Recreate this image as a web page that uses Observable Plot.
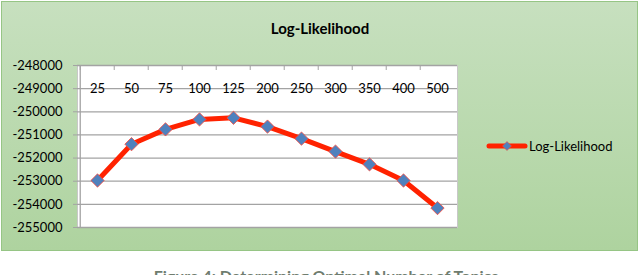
<!DOCTYPE html>
<html>
<head>
<meta charset="utf-8">
<script src="https://cdn.jsdelivr.net/npm/d3@7"></script>
<script src="https://cdn.jsdelivr.net/npm/@observablehq/plot@0.6"></script>
<style>
  html, body { margin: 0; padding: 0; background: #fff; overflow: hidden; }
  #wrap { position: relative; width: 640px; height: 275px; overflow: hidden; font-family: Lato, "Open Sans", sans-serif; }
  #panel { position: absolute; left: 1px; top: 1px; width: 635px; height: 248px;
           border: 1px solid #96c585; background: linear-gradient(#c7e0bf, #aed39f); }
  #chart { position: absolute; left: 0; top: 0; }
  #title { position: absolute; left: 0; width: 640px; top: 19px; text-align: center; font-weight: bold; font-size: 15px; color: #000; }
  #legend { position: absolute; left: 486px; top: 137px; display: flex; align-items: center; font-size: 13px; color: #000; }
  #caption { position: absolute; left: 0; width: 652px; top: 268px; line-height: 16px; text-align: center; font-weight: bold; font-size: 16px; color: #6f7d6f; white-space: nowrap; }
</style>
</head>
<body>
<div id="wrap">
  <div id="panel"></div>
  <div id="chart"></div>
  <div id="title"></div>
  <div id="legend"></div>
  <div id="caption"></div>
</div>
<script>
const titleText = "Log-Likelihood";
const seriesName = "Log-Likelihood";
const captionText = "Figure 4: Determining Optimal Number of Topics";
const topics = ["25", "50", "75", "100", "125", "200", "250", "300", "350", "400", "500"];
const logLikelihood = [-252970, -251400, -250760, -250330, -250260, -250640, -251160, -251720, -252270, -252970, -254160];
const yTicks = [-248000, -249000, -250000, -251000, -252000, -253000, -254000, -255000];

const data = topics.map((t, i) => ({topic: t, value: logLikelihood[i]}));

const W = 640, H = 250, mL = 77, mR = 183, mT = 65, mB = 23;
const step = (W - mL - mR) / topics.length;
const red = "#ff2200", blue = "#4f81bd", grid = "#a3a3a3";

const chart = Plot.plot({
  width: W, height: H,
  marginLeft: mL, marginRight: mR, marginTop: mT, marginBottom: mB,
  style: {background: "transparent", fontFamily: "Lato, 'Open Sans', sans-serif", fontSize: "13px", color: "#000"},
  x: {type: "point", domain: topics, padding: 0.5, axis: null, label: null},
  y: {domain: [-255000, -248000], axis: null, label: null},
  marks: [
    Plot.frame({fill: "white", stroke: "#c8c8c8"}),
    Plot.ruleY(yTicks, {stroke: grid, strokeWidth: 1.3}),
    Plot.axisY({ticks: yTicks, tickFormat: d => String(d), tickSize: 4, tickPadding: 11, stroke: grid, fontSize: 13, fill: "#000", label: null}),
    Plot.axisX({anchor: "top", tickSize: -4, tickFormat: () => "", dx: -step / 2, stroke: grid, label: null}),
    Plot.axisX({anchor: "top", tickSize: 0, tickPadding: 0, dy: 27, fontSize: 13, fill: "#000", label: null}),
    Plot.ruleX([topics[0]], {stroke: grid, dx: -step / 2, strokeWidth: 1.3}),
    Plot.line(data, {x: "topic", y: "value", stroke: red, strokeWidth: 5, strokeLinejoin: "round", strokeLinecap: "round"}),
    Plot.dot(data, {x: "topic", y: "value", symbol: "diamond2", r: 6, fill: blue, stroke: "#ff4a3a", strokeWidth: 0.8})
  ]
});
document.getElementById("chart").appendChild(chart);
document.getElementById("title").textContent = titleText;
document.getElementById("caption").textContent = captionText;

const leg = document.getElementById("legend");
leg.innerHTML = `<svg width="42" height="18" style="display:block"><line x1="3" y1="9" x2="39" y2="9" stroke="${red}" stroke-width="5" stroke-linecap="round"/><path d="M21,4.5L25.5,9L21,13.5L16.5,9Z" fill="${blue}" stroke="#ff4a3a" stroke-width="0.6"/></svg><span style="margin-left:1px">${seriesName}</span>`;
</script>
</body>
</html>
